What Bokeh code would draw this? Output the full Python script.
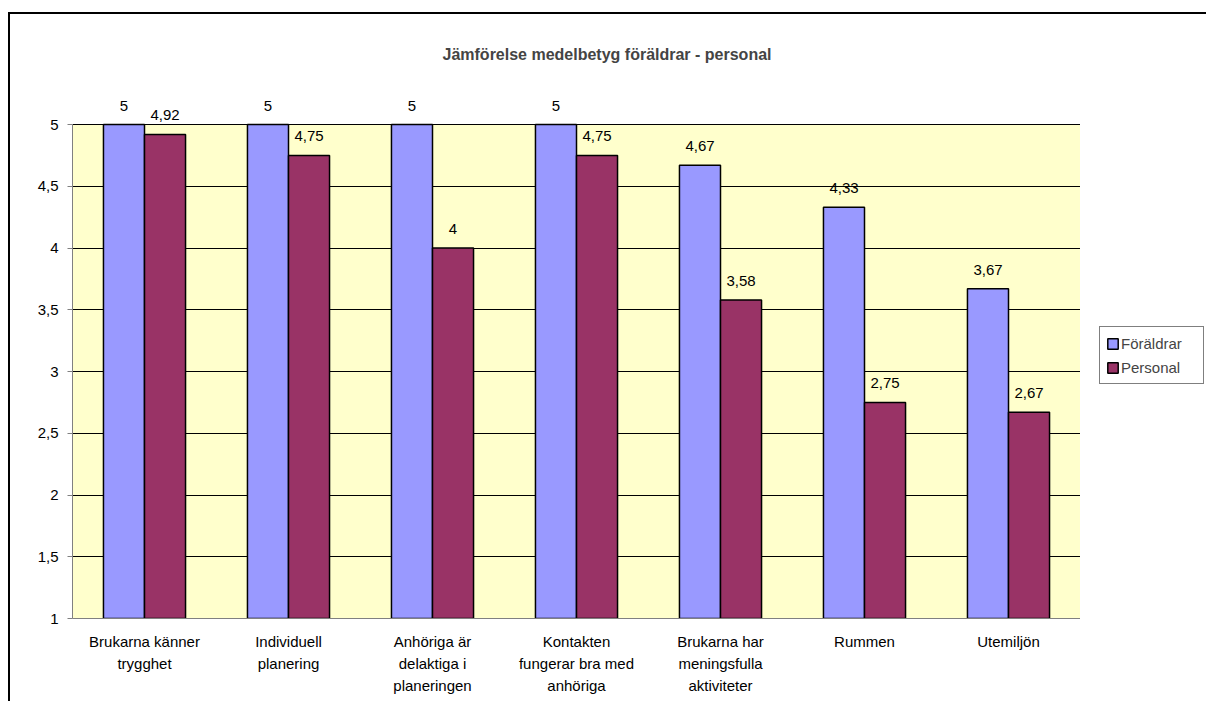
from bokeh.plotting import figure
from bokeh.layouts import row
from bokeh.models import (ColumnDataSource, LabelSet, Legend, LegendItem, FixedTicker, Range1d,
                          BoxAnnotation)
from bokeh.transform import dodge
from bokeh.core.properties import value
from bokeh.embed import file_html
from bokeh.resources import INLINE

categories = ["Brukarna känner\ntrygghet", "Individuell\nplanering", "Anhöriga är\ndelaktiga i\nplaneringen",
              "Kontakten\nfungerar bra med\nanhöriga", "Brukarna har\nmeningsfulla\naktiviteter", "Rummen", "Utemiljön"]
foraldrar = [5, 5, 5, 5, 4.67, 4.33, 3.67]
personal = [4.92, 4.75, 4, 4.75, 3.58, 2.75, 2.67]
y_ticks = [1, 1.5, 2, 2.5, 3, 3.5, 4, 4.5, 5]
series = ["Föräldrar", "Personal"]
colors = ["#9999FF", "#993366"]

def fmt(v):
    return f"{v:g}".replace(".", ",")

src = ColumnDataSource(dict(
    cat=categories,
    f=foraldrar,
    p=personal,
    ft=[fmt(v) for v in foraldrar],
    pt=[fmt(v) for v in personal],
))

FONT = "Liberation Sans"
FS = "15px"
YMIN, YMAX = y_ticks[0], y_ticks[-1]

p = figure(x_range=categories, y_range=Range1d(YMIN, YMAX + 0.3), frame_width=1008, frame_height=531,
           output_backend="svg", toolbar_location=None,
           title="Jämförelse medelbetyg föräldrar - personal",
           min_border_left=62, min_border_right=0, min_border_top=73, min_border_bottom=83)

p.background_fill_color = "white"
p.border_fill_color = "white"
p.outline_line_color = None

# plot area (yellow) limited to the value axis extent
p.add_layout(BoxAnnotation(bottom=YMIN, top=YMAX, fill_color="#FFFFCC", fill_alpha=1,
                           line_color="#808080", line_width=1, level="image"))

p.title.text_font = FONT
p.title.text_font_size = "16px"
p.title.text_font_style = "bold"
p.title.align = "left"
p.title.offset = 370
p.title.standoff = 49

w = 0.285
b1 = p.vbar(x=dodge("cat", -w / 2, range=p.x_range), top="f", bottom=YMIN, width=w, source=src,
            fill_color=colors[0], line_color="black", line_width=1.5)
b2 = p.vbar(x=dodge("cat", w / 2, range=p.x_range), top="p", bottom=YMIN, width=w, source=src,
            fill_color=colors[1], line_color="black", line_width=1.5)

for col, txt, off in (("f", "ft", -w / 2), ("p", "pt", w / 2)):
    lab = LabelSet(x=dodge("cat", off, range=p.x_range), y=col, text=txt, source=src,
                   text_align="center", text_baseline="alphabetic", y_offset=14,
                   text_font=value(FONT), text_font_size=value(FS), text_color="black")
    p.add_layout(lab)

p.yaxis.ticker = FixedTicker(ticks=y_ticks)
p.yaxis.bounds = (YMIN, YMAX)
p.yaxis.major_label_overrides = {t: fmt(t) for t in y_ticks}
p.yaxis.major_label_text_font = FONT
p.yaxis.major_label_text_font_size = FS
p.yaxis.major_label_text_color = "black"
p.yaxis.axis_line_color = "#808080"
p.yaxis.major_tick_line_color = "#808080"
p.yaxis.major_tick_out = 5
p.yaxis.major_tick_in = 0
p.yaxis.minor_tick_line_color = None
p.yaxis.major_label_standoff = 9

p.xaxis.major_label_text_font = FONT
p.xaxis.major_label_text_font_size = FS
p.xaxis.major_label_text_color = "black"
p.xaxis.axis_line_color = "#808080"
p.xaxis.major_tick_line_color = None
p.xaxis.major_label_standoff = 8
p.xaxis.major_label_text_line_height = 1.3

p.xgrid.grid_line_color = None
p.ygrid.grid_line_color = "#000000"
p.ygrid.grid_line_width = 1
p.ygrid.ticker = FixedTicker(ticks=y_ticks)

# legend panel to the right of the plot area
q = figure(x_range=categories, y_range=Range1d(YMIN, YMAX), width=126, height=687,
           output_backend="svg", toolbar_location=None, x_axis_location=None, y_axis_location=None,
           min_border=0)
q.outline_line_color = None
q.xgrid.grid_line_color = None
q.ygrid.grid_line_color = None
q.background_fill_color = "white"
q.border_fill_color = "white"
r1 = q.vbar(x="cat", top="f", bottom=YMIN, width=w, source=src,
            fill_color=colors[0], line_color="black", line_width=1.5, visible=False)
r2 = q.vbar(x="cat", top="p", bottom=YMIN, width=w, source=src,
            fill_color=colors[1], line_color="black", line_width=1.5, visible=False)

legend = Legend(items=[LegendItem(label=series[0], renderers=[r1]),
                       LegendItem(label=series[1], renderers=[r2])],
                location=(19, 234), orientation="vertical",
                label_text_font=FONT, label_text_font_size=FS,
                glyph_width=13, glyph_height=13, label_standoff=2, spacing=4,
                padding=6, margin=0, border_line_color="black", border_line_width=1,
                label_height=20, label_width=76, background_fill_color="white", background_fill_alpha=1)
q.add_layout(legend)

layout = row(p, q, styles={"border-top": "2px solid black", "border-left": "2px solid black",
                           "margin-top": "12px", "margin-left": "8px"})

open("out.html", "w").write(file_html(layout, INLINE))
